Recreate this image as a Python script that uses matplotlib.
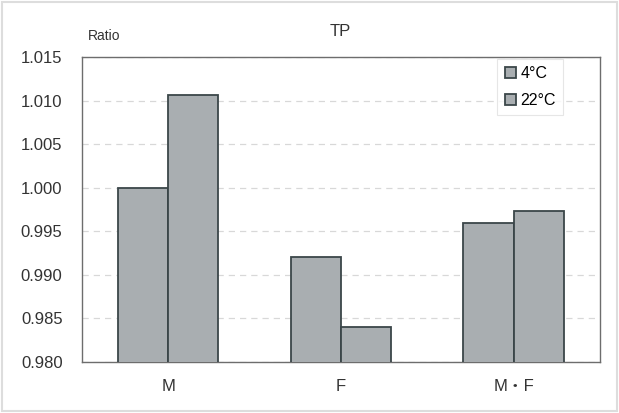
import matplotlib
matplotlib.use("Agg")
import matplotlib.pyplot as plt
import numpy as np

plt.rcParams['font.family'] = ['Liberation Sans', 'Noto Sans CJK JP', 'DejaVu Sans']

categories = ['M', 'F', 'M\u30fbF']
series_names = ['4\u00b0C', '22\u00b0C']
vals_4c = [1.000, 0.992, 0.996]
vals_22c = [1.0106, 0.984, 0.9973]
yticks = [0.980, 0.985, 0.990, 0.995, 1.000, 1.005, 1.010, 1.015]

fig = plt.figure(figsize=(6.19, 4.13), dpi=100)
ax = fig.add_axes([0.1325, 0.1235, 0.8365, 0.7385])

x = np.arange(len(categories))
w = 0.29
bar_kw = dict(color='#a9aeb1', edgecolor='#3b4649', linewidth=1.3, zorder=3)
ax.bar(x - w / 2, vals_4c, w, label=series_names[0], **bar_kw)
ax.bar(x + w / 2, vals_22c, w, label=series_names[1], **bar_kw)

ax.set_xlim(-0.5, 2.5)
ax.set_ylim(0.980, 1.015)
ax.set_yticks(yticks)
ax.set_yticklabels(['%.3f' % t for t in yticks])
ax.set_xticks(x)
ax.set_xticklabels(categories)
ax.tick_params(axis='both', length=0, labelsize=12, colors='#333333', pad=12)
ax.tick_params(axis='y', pad=14)

ax.yaxis.grid(True, linestyle=(0, (5, 4)), color='#d8d8d8', linewidth=0.9, zorder=0)
for s in ax.spines.values():
    s.set_color('#6d6d6d')
    s.set_linewidth(1.0)

ax.text(0.012, 1.055, 'Ratio', transform=ax.transAxes, fontsize=10, color='#333333')
fig.text(0.55, 0.912, 'TP', ha='center', fontsize=12, color='#333333')

leg = ax.legend(loc='upper right', bbox_to_anchor=(0.945, 1.02), fontsize=11.5,
                handlelength=0.7, handleheight=0.7, handletextpad=0.3,
                labelspacing=0.75, borderpad=0.45, frameon=True, fancybox=False)
leg.get_frame().set_edgecolor('#e0e0e0')
leg.get_frame().set_linewidth(0.8)
leg.set_zorder(5)

fig.patches.append(plt.Rectangle((0.003, 0.005), 0.994, 0.99, transform=fig.transFigure,
                                 fill=False, edgecolor='#dddddd', linewidth=1.5))

fig.savefig('out.png', dpi=100)
